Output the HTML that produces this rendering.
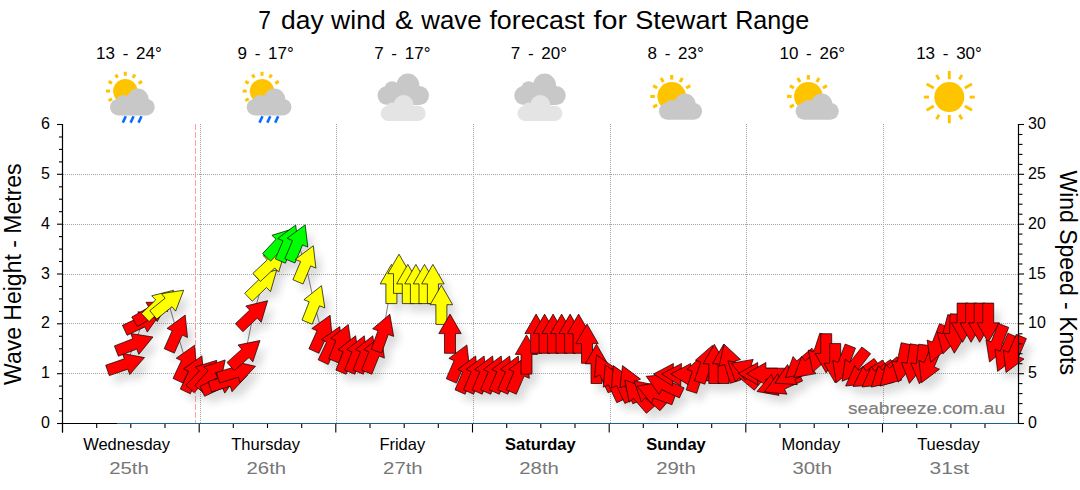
<!DOCTYPE html><html><head><meta charset="utf-8"><title>7 day wind &amp; wave forecast</title>
<style>html,body{margin:0;padding:0;background:#fff;}body{width:1080px;height:490px;overflow:hidden;font-family:"Liberation Sans",sans-serif;}svg{display:block}text{font-family:"Liberation Sans",sans-serif;}</style></head><body>
<svg width="1080" height="490" viewBox="0 0 1080 490">
<defs><filter id="sh" x="-20%" y="-20%" width="150%" height="150%"><feGaussianBlur stdDeviation="4.5"/></filter></defs>
<rect width="1080" height="490" fill="#fff"/>
<text x="258.3" y="29.2" font-size="26" fill="#000" textLength="12.7" lengthAdjust="spacingAndGlyphs">7</text>
<text x="281.1" y="29.2" font-size="26" fill="#000" textLength="42.6" lengthAdjust="spacingAndGlyphs">day</text>
<text x="331.1" y="29.2" font-size="26" fill="#000" textLength="54.6" lengthAdjust="spacingAndGlyphs">wind</text>
<text x="395.0" y="29.2" font-size="26" fill="#000" textLength="18.2" lengthAdjust="spacingAndGlyphs">&amp;</text>
<text x="421.3" y="29.2" font-size="26" fill="#000" textLength="60.2" lengthAdjust="spacingAndGlyphs">wave</text>
<text x="489.4" y="29.2" font-size="26" fill="#000" textLength="95.4" lengthAdjust="spacingAndGlyphs">forecast</text>
<text x="593.6" y="29.2" font-size="26" fill="#000" textLength="33.5" lengthAdjust="spacingAndGlyphs">for</text>
<text x="635.2" y="29.2" font-size="26" fill="#000" textLength="91.9" lengthAdjust="spacingAndGlyphs">Stewart</text>
<text x="735.2" y="29.2" font-size="26" fill="#000" textLength="74.1" lengthAdjust="spacingAndGlyphs">Range</text>
<line x1="63.0" x2="1018.5" y1="373.5" y2="373.5" stroke="#a4a4a4" stroke-width="1" stroke-dasharray="1,1"/>
<line x1="63.0" x2="1018.5" y1="323.5" y2="323.5" stroke="#a4a4a4" stroke-width="1" stroke-dasharray="1,1"/>
<line x1="63.0" x2="1018.5" y1="274.5" y2="274.5" stroke="#a4a4a4" stroke-width="1" stroke-dasharray="1,1"/>
<line x1="63.0" x2="1018.5" y1="224.5" y2="224.5" stroke="#a4a4a4" stroke-width="1" stroke-dasharray="1,1"/>
<line x1="63.0" x2="1018.5" y1="174.5" y2="174.5" stroke="#a4a4a4" stroke-width="1" stroke-dasharray="1,1"/>
<line x1="200.5" x2="200.5" y1="124.0" y2="423.5" stroke="#a4a4a4" stroke-width="1" stroke-dasharray="1,1"/>
<line x1="336.5" x2="336.5" y1="124.0" y2="423.5" stroke="#a4a4a4" stroke-width="1" stroke-dasharray="1,1"/>
<line x1="473.5" x2="473.5" y1="124.0" y2="423.5" stroke="#a4a4a4" stroke-width="1" stroke-dasharray="1,1"/>
<line x1="610.5" x2="610.5" y1="124.0" y2="423.5" stroke="#a4a4a4" stroke-width="1" stroke-dasharray="1,1"/>
<line x1="746.5" x2="746.5" y1="124.0" y2="423.5" stroke="#a4a4a4" stroke-width="1" stroke-dasharray="1,1"/>
<line x1="883.5" x2="883.5" y1="124.0" y2="423.5" stroke="#a4a4a4" stroke-width="1" stroke-dasharray="1,1"/>
<line x1="195.5" x2="195.5" y1="124.0" y2="423.5" stroke="#ffa0ac" stroke-width="1" stroke-dasharray="6,2"/>
<polyline fill="none" stroke="#808080" stroke-width="1" points="126.0,364.0 134.7,344.0 142.5,322.0 151.5,312.0 159.4,303.9 168.5,302.5 177.2,333.0 186.3,363.0 193.6,373.7 203.4,374.6 212.1,374.5 220.0,383.0 228.6,381.0 236.8,372.0 245.3,353.5 253.4,314.2 262.6,283.6 271.0,264.0 280.0,243.0 288.0,243.0 297.5,242.8 305.6,263.8 314.3,303.9 322.0,333.2 331.5,344.4 341.0,342.7 348.3,354.0 357.0,354.0 365.5,354.0 374.0,354.0 383.1,332.7 391.4,284.0 399.0,273.8 407.8,284.0 415.9,284.0 424.5,284.0 432.9,284.0 441.4,304.8 450.0,333.7 459.1,362.9 467.8,374.0 476.3,374.0 484.9,374.0 493.4,374.0 502.0,374.0 510.5,374.0 519.0,374.0 526.5,354.5 536.1,333.7 544.6,333.7 553.1,333.7 561.6,333.7 570.1,333.7 578.6,333.7 587.0,343.7 596.5,363.9 604.8,372.7 613.5,382.6 621.6,383.4 630.2,383.6 637.7,394.9 648.8,393.7 655.4,392.9 664.0,384.6 673.1,374.7 681.2,374.7 690.4,374.7 697.5,373.0 706.0,363.9 714.3,363.9 723.6,363.9 729.8,362.9 742.8,373.4 749.5,370.0 757.8,373.7 766.0,373.7 775.4,384.8 782.4,383.9 792.5,374.5 800.4,365.0 808.9,365.0 819.0,353.5 826.2,353.3 835.2,363.2 843.3,364.4 854.2,365.8 861.5,374.5 869.3,375.5 877.9,375.5 885.9,374.0 893.8,372.0 902.5,363.0 912.5,364.0 921.8,364.3 929.2,364.7 937.6,344.0 948.0,335.0 955.0,333.6 962.6,322.7 971.1,322.7 979.7,322.7 988.2,322.7 996.5,343.7 1005.3,353.4 1013.7,354.5"/>
<g filter="url(#sh)" fill="#000" opacity="0.14">
<polygon points="150.5,365.6 135.7,382.6 133.9,377.2 115.3,383.6 111.7,373.2 130.3,366.8 128.4,361.4"/>
<polygon points="159.0,345.0 144.8,362.4 142.8,357.1 124.4,364.2 120.4,353.9 138.8,346.8 136.8,341.5"/>
<polygon points="166.3,321.7 153.3,340.1 150.9,334.9 133.1,343.3 128.4,333.3 146.3,325.0 143.9,319.8"/>
<polygon points="174.5,310.2 163.2,329.6 160.3,324.7 143.3,334.6 137.8,325.0 154.8,315.2 152.0,310.3"/>
<polygon points="179.5,298.3 173.3,319.9 169.3,315.8 155.1,329.5 147.5,321.6 161.7,307.9 157.7,303.8"/>
<polygon points="189.7,298.2 181.6,319.1 178.0,314.7 162.7,327.1 155.8,318.6 171.1,306.2 167.5,301.7"/>
<polygon points="191.2,323.1 193.5,345.5 188.3,343.1 180.3,361.1 170.2,356.7 178.2,338.7 173.0,336.4"/>
<polygon points="200.6,353.2 202.5,375.6 197.3,373.2 189.0,391.1 179.0,386.4 187.4,368.6 182.2,366.2"/>
<polygon points="207.9,363.9 209.8,386.3 204.6,383.9 196.3,401.8 186.3,397.1 194.7,379.3 189.5,376.9"/>
<polygon points="222.8,368.3 217.7,390.2 213.5,386.3 200.1,400.7 192.0,393.2 205.4,378.8 201.3,374.9"/>
<polygon points="231.2,367.9 226.5,389.9 222.3,386.1 209.1,400.7 200.9,393.4 214.1,378.7 209.8,374.9"/>
<polygon points="243.8,382.7 230.8,401.1 228.4,395.9 210.6,404.3 205.9,394.3 223.8,386.0 221.4,380.8"/>
<polygon points="253.3,383.3 238.0,399.7 236.3,394.2 217.5,400.0 214.2,389.5 233.1,383.7 231.4,378.3"/>
<polygon points="261.5,374.3 246.2,390.7 244.5,385.2 225.7,391.0 222.4,380.5 241.3,374.7 239.6,369.3"/>
<polygon points="266.0,348.5 258.8,369.8 255.0,365.6 240.3,378.6 233.0,370.4 247.7,357.3 244.0,353.0"/>
<polygon points="273.6,308.7 267.2,330.3 263.3,326.1 248.9,339.7 241.4,331.7 255.7,318.1 251.8,314.0"/>
<polygon points="282.7,278.0 276.5,299.6 272.5,295.5 258.3,309.2 250.7,301.3 264.9,287.6 260.9,283.5"/>
<polygon points="291.3,258.6 284.7,280.1 280.8,276.0 266.4,289.4 258.9,281.3 273.3,267.9 269.4,263.7"/>
<polygon points="299.4,236.7 294.3,258.6 290.1,254.7 276.7,269.1 268.6,261.6 282.0,247.2 277.9,243.3"/>
<polygon points="301.7,233.0 304.3,255.3 299.1,253.1 291.4,271.2 281.3,266.9 289.0,248.8 283.7,246.5"/>
<polygon points="311.2,232.8 313.8,255.1 308.6,252.9 300.9,271.0 290.8,266.7 298.5,248.6 293.2,246.3"/>
<polygon points="319.3,253.8 321.9,276.1 316.7,273.9 309.0,292.0 298.9,287.7 306.6,269.6 301.3,267.3"/>
<polygon points="327.5,293.7 330.8,315.9 325.5,313.8 318.2,332.2 308.0,328.1 315.2,309.8 309.9,307.7"/>
<polygon points="336.1,323.3 338.2,345.7 333.1,343.4 324.9,361.3 314.9,356.8 323.0,338.8 317.8,336.5"/>
<polygon points="345.8,334.6 347.7,357.0 342.5,354.6 334.2,372.5 324.2,367.8 332.6,350.0 327.4,347.6"/>
<polygon points="354.3,332.5 357.4,354.8 352.1,352.7 344.8,370.9 334.6,366.8 341.9,348.5 336.7,346.4"/>
<polygon points="361.6,343.8 364.7,366.1 359.4,364.0 352.1,382.2 341.9,378.1 349.2,359.8 344.0,357.7"/>
<polygon points="370.3,343.8 373.4,366.1 368.1,364.0 360.8,382.2 350.6,378.1 357.9,359.8 352.7,357.7"/>
<polygon points="378.8,343.8 381.9,366.1 376.6,364.0 369.3,382.2 359.1,378.1 366.4,359.8 361.2,357.7"/>
<polygon points="387.3,343.8 390.4,366.1 385.1,364.0 377.8,382.2 367.6,378.1 374.9,359.8 369.7,357.7"/>
<polygon points="395.8,322.3 399.7,344.4 394.3,342.5 387.6,361.0 377.2,357.2 384.0,338.7 378.6,336.8"/>
<polygon points="397.4,272.4 408.6,291.9 402.9,291.9 402.9,311.6 391.9,311.6 391.9,291.9 386.2,291.9"/>
<polygon points="405.0,262.2 416.2,281.7 410.5,281.7 410.5,301.4 399.5,301.4 399.5,281.7 393.8,281.7"/>
<polygon points="413.8,272.4 425.0,291.9 419.3,291.9 419.3,311.6 408.3,311.6 408.3,291.9 402.6,291.9"/>
<polygon points="421.9,272.4 433.1,291.9 427.4,291.9 427.4,311.6 416.4,311.6 416.4,291.9 410.7,291.9"/>
<polygon points="430.5,272.4 441.7,291.9 436.0,291.9 436.0,311.6 425.0,311.6 425.0,291.9 419.3,291.9"/>
<polygon points="438.9,272.4 450.1,291.9 444.4,291.9 444.4,311.6 433.4,311.6 433.4,291.9 427.7,291.9"/>
<polygon points="447.4,293.2 458.6,312.7 452.9,312.7 452.9,332.4 441.9,332.4 441.9,312.7 436.2,312.7"/>
<polygon points="456.0,322.1 467.2,341.6 461.5,341.6 461.5,361.3 450.5,361.3 450.5,341.6 444.8,341.6"/>
<polygon points="472.9,352.9 475.4,375.3 470.2,373.0 462.4,391.1 452.3,386.7 460.1,368.6 454.9,366.4"/>
<polygon points="481.6,364.0 484.1,386.3 478.9,384.1 471.1,402.2 461.0,397.8 468.8,379.7 463.6,377.5"/>
<polygon points="490.1,364.0 492.7,386.3 487.4,384.1 479.6,402.2 469.5,397.8 477.3,379.7 472.1,377.5"/>
<polygon points="498.6,364.0 501.2,386.3 496.0,384.1 488.2,402.2 478.1,397.8 485.9,379.7 480.6,377.5"/>
<polygon points="507.2,364.0 509.7,386.3 504.5,384.1 496.7,402.2 486.6,397.8 494.4,379.7 489.2,377.5"/>
<polygon points="515.7,364.0 518.3,386.3 513.1,384.1 505.3,402.2 495.2,397.8 502.9,379.7 497.7,377.5"/>
<polygon points="524.3,364.0 526.8,386.3 521.6,384.1 513.8,402.2 503.7,397.8 511.5,379.7 506.3,377.5"/>
<polygon points="532.8,364.0 535.4,386.3 530.1,384.1 522.3,402.2 512.2,397.8 520.0,379.7 514.8,377.5"/>
<polygon points="532.5,342.9 543.7,362.4 538.0,362.4 538.0,382.1 527.0,382.1 527.0,362.4 521.3,362.4"/>
<polygon points="542.1,322.1 553.3,341.6 547.6,341.6 547.6,361.3 536.6,361.3 536.6,341.6 530.9,341.6"/>
<polygon points="550.6,322.1 561.8,341.6 556.1,341.6 556.1,361.3 545.1,361.3 545.1,341.6 539.4,341.6"/>
<polygon points="559.1,322.1 570.3,341.6 564.6,341.6 564.6,361.3 553.6,361.3 553.6,341.6 547.9,341.6"/>
<polygon points="567.6,322.1 578.8,341.6 573.1,341.6 573.1,361.3 562.1,361.3 562.1,341.6 556.4,341.6"/>
<polygon points="576.1,322.1 587.3,341.6 581.6,341.6 581.6,361.3 570.6,361.3 570.6,341.6 564.9,341.6"/>
<polygon points="584.6,322.1 595.8,341.6 590.1,341.6 590.1,361.3 579.1,361.3 579.1,341.6 573.4,341.6"/>
<polygon points="593.0,332.1 604.2,351.6 598.5,351.6 598.5,371.3 587.5,371.3 587.5,351.6 581.8,351.6"/>
<polygon points="602.5,352.3 613.7,371.8 608.0,371.8 608.0,391.5 597.0,391.5 597.0,371.8 591.3,371.8"/>
<polygon points="602.5,362.9 620.9,375.9 615.7,378.3 624.1,396.1 614.1,400.8 605.8,382.9 600.6,385.3"/>
<polygon points="611.2,372.8 629.6,385.8 624.4,388.2 632.8,406.0 622.8,410.7 614.5,392.8 609.3,395.2"/>
<polygon points="619.3,373.6 637.7,386.6 632.5,389.0 640.9,406.8 630.9,411.5 622.6,393.6 617.4,396.0"/>
<polygon points="628.5,373.6 646.5,387.1 641.2,389.4 648.9,407.5 638.8,411.8 631.1,393.7 625.9,395.9"/>
<polygon points="630.8,388.1 652.1,395.5 647.8,399.2 660.7,414.1 652.4,421.3 639.5,406.4 635.2,410.2"/>
<polygon points="640.0,388.8 662.1,393.2 658.3,397.5 673.2,410.4 666.0,418.7 651.1,405.8 647.4,410.1"/>
<polygon points="643.0,394.2 665.1,390.3 663.2,395.7 681.7,402.4 677.9,412.8 659.4,406.0 657.5,411.4"/>
<polygon points="652.2,384.3 674.6,382.4 672.2,387.6 690.1,395.9 685.4,405.9 667.6,397.5 665.2,402.7"/>
<polygon points="659.5,382.0 679.4,371.5 679.2,377.2 698.9,377.9 698.5,388.9 678.8,388.2 678.6,393.9"/>
<polygon points="667.6,382.0 687.5,371.5 687.3,377.2 707.0,377.9 706.6,388.9 686.9,388.2 686.7,393.9"/>
<polygon points="676.8,382.0 696.7,371.5 696.5,377.2 716.2,377.9 715.8,388.9 696.1,388.2 695.9,393.9"/>
<polygon points="709.6,362.4 714.2,384.4 708.8,382.6 702.7,401.3 692.2,397.9 698.3,379.2 692.9,377.4"/>
<polygon points="718.4,353.4 722.6,375.5 717.2,373.6 710.8,392.2 700.4,388.6 706.8,370.0 701.4,368.2"/>
<polygon points="720.3,352.3 731.5,371.8 725.8,371.8 725.8,391.5 714.8,391.5 714.8,371.8 709.1,371.8"/>
<polygon points="729.6,352.3 740.8,371.8 735.1,371.8 735.1,391.5 724.1,391.5 724.1,371.8 718.4,371.8"/>
<polygon points="730.1,352.2 746.5,367.5 741.0,369.2 746.8,388.0 736.3,391.3 730.5,372.4 725.1,374.1"/>
<polygon points="733.8,368.8 755.9,372.8 752.3,377.1 767.3,389.8 760.3,398.2 745.2,385.5 741.5,389.9"/>
<polygon points="737.1,371.3 759.2,367.4 757.3,372.8 775.8,379.5 772.0,389.9 753.5,383.1 751.6,388.5"/>
<polygon points="744.2,381.7 763.7,370.5 763.7,376.2 783.4,376.2 783.4,387.2 763.7,387.2 763.7,392.9"/>
<polygon points="752.4,381.7 771.9,370.5 771.9,376.2 791.6,376.2 791.6,387.2 771.9,387.2 771.9,392.9"/>
<polygon points="763.0,399.5 777.5,382.3 779.4,387.7 797.9,380.9 801.7,391.3 783.2,398.0 785.1,403.4"/>
<polygon points="770.5,399.9 783.8,381.7 786.1,386.9 804.1,378.9 808.5,389.0 790.5,397.0 792.9,402.2"/>
<polygon points="780.9,391.1 793.5,372.5 796.0,377.6 813.7,369.0 818.5,378.9 800.8,387.5 803.3,392.6"/>
<polygon points="791.4,385.6 799.1,364.5 802.8,368.9 817.9,356.2 824.9,364.6 809.9,377.3 813.5,381.6"/>
<polygon points="799.9,385.6 807.6,364.5 811.3,368.9 826.4,356.2 833.4,364.6 818.4,377.3 822.0,381.6"/>
<polygon points="818.9,380.1 814.3,358.1 819.7,359.9 825.8,341.2 836.3,344.6 830.2,363.3 835.6,365.1"/>
<polygon points="832.2,380.9 821.0,361.4 826.7,361.4 826.7,341.7 837.7,341.7 837.7,361.4 843.4,361.4"/>
<polygon points="841.2,390.8 830.0,371.3 835.7,371.3 835.7,351.6 846.7,351.6 846.7,371.3 852.4,371.3"/>
<polygon points="842.3,390.7 838.8,368.5 844.1,370.5 851.2,352.1 861.5,356.1 854.4,374.5 859.7,376.5"/>
<polygon points="848.1,389.2 851.3,367.0 855.8,370.5 867.9,355.0 876.6,361.7 864.5,377.3 869.0,380.8"/>
<polygon points="851.6,394.0 860.8,373.5 864.2,378.1 880.1,366.5 886.6,375.4 870.7,387.0 874.0,391.6"/>
<polygon points="859.1,394.5 869.0,374.3 872.1,379.0 888.5,368.0 894.6,377.1 878.3,388.1 881.5,392.8"/>
<polygon points="868.0,395.0 877.2,374.5 880.6,379.1 896.5,367.5 903.0,376.4 887.1,388.0 890.4,392.6"/>
<polygon points="877.3,395.1 884.3,373.7 888.1,378.0 902.8,364.8 910.1,373.0 895.5,386.2 899.3,390.4"/>
<polygon points="886.2,394.1 891.7,372.3 895.8,376.3 909.5,362.1 917.4,369.7 903.7,383.9 907.8,387.9"/>
<polygon points="904.4,390.2 897.5,368.8 903.1,370.0 907.2,350.7 918.0,353.0 913.9,372.2 919.4,373.4"/>
<polygon points="915.4,391.4 907.4,370.3 913.1,371.2 916.1,351.8 927.0,353.5 923.9,373.0 929.5,373.9"/>
<polygon points="925.4,391.8 916.7,371.0 922.3,371.7 924.7,352.2 935.6,353.5 933.2,373.1 938.9,373.8"/>
<polygon points="927.5,390.7 924.9,368.4 930.1,370.6 937.8,352.5 947.9,356.8 940.2,374.9 945.5,377.2"/>
<polygon points="936.6,370.3 933.1,348.1 938.4,350.1 945.5,331.7 955.8,335.7 948.7,354.1 954.0,356.1"/>
<polygon points="948.9,361.9 943.2,340.2 948.7,341.7 953.8,322.6 964.4,325.5 959.3,344.5 964.8,346.0"/>
<polygon points="960.3,361.2 949.8,341.3 955.5,341.5 956.2,321.8 967.2,322.2 966.5,341.9 972.2,342.1"/>
<polygon points="968.6,350.3 957.4,330.8 963.1,330.8 963.1,311.1 974.1,311.1 974.1,330.8 979.8,330.8"/>
<polygon points="977.1,350.3 965.9,330.8 971.6,330.8 971.6,311.1 982.6,311.1 982.6,330.8 988.3,330.8"/>
<polygon points="985.7,350.3 974.5,330.8 980.2,330.8 980.2,311.1 991.2,311.1 991.2,330.8 996.9,330.8"/>
<polygon points="994.2,350.3 983.0,330.8 988.7,330.8 988.7,311.1 999.7,311.1 999.7,330.8 1005.4,330.8"/>
<polygon points="995.5,370.0 992.0,347.8 997.3,349.8 1004.4,331.4 1014.7,335.4 1007.6,353.8 1012.9,355.8"/>
<polygon points="1003.6,379.4 1001.0,357.1 1006.2,359.3 1013.9,341.2 1024.0,345.5 1016.3,363.6 1021.6,365.9"/>
<polygon points="1012.0,380.5 1009.4,358.2 1014.6,360.4 1022.3,342.3 1032.4,346.6 1024.7,364.7 1030.0,367.0"/>
</g>
<g stroke="#000" stroke-width="0.7" stroke-linejoin="miter">
<polygon points="144.5,357.6 129.7,374.6 127.9,369.2 109.3,375.6 105.7,365.2 124.3,358.8 122.4,353.4" fill="#ff0000"/>
<polygon points="153.0,337.0 138.8,354.4 136.8,349.1 118.4,356.2 114.4,345.9 132.8,338.8 130.8,333.5" fill="#ff0000"/>
<polygon points="160.3,313.7 147.3,332.1 144.9,326.9 127.1,335.3 122.4,325.3 140.3,317.0 137.9,311.8" fill="#ff0000"/>
<polygon points="168.5,302.2 157.2,321.6 154.3,316.7 137.3,326.6 131.8,317.0 148.8,307.2 146.0,302.3" fill="#ff0000"/>
<polygon points="173.5,290.3 167.3,311.9 163.3,307.8 149.1,321.5 141.5,313.6 155.7,299.9 151.7,295.8" fill="#ffff00"/>
<polygon points="183.7,290.2 175.6,311.1 172.0,306.7 156.7,319.1 149.8,310.6 165.1,298.2 161.5,293.7" fill="#ffff00"/>
<polygon points="185.2,315.1 187.5,337.5 182.3,335.1 174.3,353.1 164.2,348.7 172.2,330.7 167.0,328.4" fill="#ff0000"/>
<polygon points="194.6,345.2 196.5,367.6 191.3,365.2 183.0,383.1 173.0,378.4 181.4,360.6 176.2,358.2" fill="#ff0000"/>
<polygon points="201.9,355.9 203.8,378.3 198.6,375.9 190.3,393.8 180.3,389.1 188.7,371.3 183.5,368.9" fill="#ff0000"/>
<polygon points="216.8,360.3 211.7,382.2 207.5,378.3 194.1,392.7 186.0,385.2 199.4,370.8 195.3,366.9" fill="#ff0000"/>
<polygon points="225.2,359.9 220.5,381.9 216.3,378.1 203.1,392.7 194.9,385.4 208.1,370.7 203.8,366.9" fill="#ff0000"/>
<polygon points="237.8,374.7 224.8,393.1 222.4,387.9 204.6,396.3 199.9,386.3 217.8,378.0 215.4,372.8" fill="#ff0000"/>
<polygon points="247.3,375.3 232.0,391.7 230.3,386.2 211.5,392.0 208.2,381.5 227.1,375.7 225.4,370.3" fill="#ff0000"/>
<polygon points="255.5,366.3 240.2,382.7 238.5,377.2 219.7,383.0 216.4,372.5 235.3,366.7 233.6,361.3" fill="#ff0000"/>
<polygon points="260.0,340.5 252.8,361.8 249.0,357.6 234.3,370.6 227.0,362.4 241.7,349.3 238.0,345.0" fill="#ff0000"/>
<polygon points="267.6,300.7 261.2,322.3 257.3,318.1 242.9,331.7 235.4,323.7 249.7,310.1 245.8,306.0" fill="#ff0000"/>
<polygon points="276.7,270.0 270.5,291.6 266.5,287.5 252.3,301.2 244.7,293.3 258.9,279.6 254.9,275.5" fill="#ffff00"/>
<polygon points="285.3,250.6 278.7,272.1 274.8,268.0 260.4,281.4 252.9,273.3 267.3,259.9 263.4,255.7" fill="#ffff00"/>
<polygon points="293.4,228.7 288.3,250.6 284.1,246.7 270.7,261.1 262.6,253.6 276.0,239.2 271.9,235.3" fill="#00ff00"/>
<polygon points="295.7,225.0 298.3,247.3 293.1,245.1 285.4,263.2 275.3,258.9 283.0,240.8 277.7,238.5" fill="#00ff00"/>
<polygon points="305.2,224.8 307.8,247.1 302.6,244.9 294.9,263.0 284.8,258.7 292.5,240.6 287.2,238.3" fill="#00ff00"/>
<polygon points="313.3,245.8 315.9,268.1 310.7,265.9 303.0,284.0 292.9,279.7 300.6,261.6 295.3,259.3" fill="#ffff00"/>
<polygon points="321.5,285.7 324.8,307.9 319.5,305.8 312.2,324.2 302.0,320.1 309.2,301.8 303.9,299.7" fill="#ffff00"/>
<polygon points="330.1,315.3 332.2,337.7 327.1,335.4 318.9,353.3 308.9,348.8 317.0,330.8 311.8,328.5" fill="#ff0000"/>
<polygon points="339.8,326.6 341.7,349.0 336.5,346.6 328.2,364.5 318.2,359.8 326.6,342.0 321.4,339.6" fill="#ff0000"/>
<polygon points="348.3,324.5 351.4,346.8 346.1,344.7 338.8,362.9 328.6,358.8 335.9,340.5 330.7,338.4" fill="#ff0000"/>
<polygon points="355.6,335.8 358.7,358.1 353.4,356.0 346.1,374.2 335.9,370.1 343.2,351.8 338.0,349.7" fill="#ff0000"/>
<polygon points="364.3,335.8 367.4,358.1 362.1,356.0 354.8,374.2 344.6,370.1 351.9,351.8 346.7,349.7" fill="#ff0000"/>
<polygon points="372.8,335.8 375.9,358.1 370.6,356.0 363.3,374.2 353.1,370.1 360.4,351.8 355.2,349.7" fill="#ff0000"/>
<polygon points="381.3,335.8 384.4,358.1 379.1,356.0 371.8,374.2 361.6,370.1 368.9,351.8 363.7,349.7" fill="#ff0000"/>
<polygon points="389.8,314.3 393.7,336.4 388.3,334.5 381.6,353.0 371.2,349.2 378.0,330.7 372.6,328.8" fill="#ff0000"/>
<polygon points="391.4,264.4 402.6,283.9 396.9,283.9 396.9,303.6 385.9,303.6 385.9,283.9 380.2,283.9" fill="#ffff00"/>
<polygon points="399.0,254.2 410.2,273.7 404.5,273.7 404.5,293.4 393.5,293.4 393.5,273.7 387.8,273.7" fill="#ffff00"/>
<polygon points="407.8,264.4 419.0,283.9 413.3,283.9 413.3,303.6 402.3,303.6 402.3,283.9 396.6,283.9" fill="#ffff00"/>
<polygon points="415.9,264.4 427.1,283.9 421.4,283.9 421.4,303.6 410.4,303.6 410.4,283.9 404.7,283.9" fill="#ffff00"/>
<polygon points="424.5,264.4 435.7,283.9 430.0,283.9 430.0,303.6 419.0,303.6 419.0,283.9 413.3,283.9" fill="#ffff00"/>
<polygon points="432.9,264.4 444.1,283.9 438.4,283.9 438.4,303.6 427.4,303.6 427.4,283.9 421.7,283.9" fill="#ffff00"/>
<polygon points="441.4,285.2 452.6,304.7 446.9,304.7 446.9,324.4 435.9,324.4 435.9,304.7 430.2,304.7" fill="#ffff00"/>
<polygon points="450.0,314.1 461.2,333.6 455.5,333.6 455.5,353.3 444.5,353.3 444.5,333.6 438.8,333.6" fill="#ff0000"/>
<polygon points="466.9,344.9 469.4,367.3 464.2,365.0 456.4,383.1 446.3,378.7 454.1,360.6 448.9,358.4" fill="#ff0000"/>
<polygon points="475.6,356.0 478.1,378.3 472.9,376.1 465.1,394.2 455.0,389.8 462.8,371.7 457.6,369.5" fill="#ff0000"/>
<polygon points="484.1,356.0 486.7,378.3 481.4,376.1 473.6,394.2 463.5,389.8 471.3,371.7 466.1,369.5" fill="#ff0000"/>
<polygon points="492.6,356.0 495.2,378.3 490.0,376.1 482.2,394.2 472.1,389.8 479.9,371.7 474.6,369.5" fill="#ff0000"/>
<polygon points="501.2,356.0 503.7,378.3 498.5,376.1 490.7,394.2 480.6,389.8 488.4,371.7 483.2,369.5" fill="#ff0000"/>
<polygon points="509.7,356.0 512.3,378.3 507.1,376.1 499.3,394.2 489.2,389.8 496.9,371.7 491.7,369.5" fill="#ff0000"/>
<polygon points="518.3,356.0 520.8,378.3 515.6,376.1 507.8,394.2 497.7,389.8 505.5,371.7 500.3,369.5" fill="#ff0000"/>
<polygon points="526.8,356.0 529.4,378.3 524.1,376.1 516.3,394.2 506.2,389.8 514.0,371.7 508.8,369.5" fill="#ff0000"/>
<polygon points="526.5,334.9 537.7,354.4 532.0,354.4 532.0,374.1 521.0,374.1 521.0,354.4 515.3,354.4" fill="#ff0000"/>
<polygon points="536.1,314.1 547.3,333.6 541.6,333.6 541.6,353.3 530.6,353.3 530.6,333.6 524.9,333.6" fill="#ff0000"/>
<polygon points="544.6,314.1 555.8,333.6 550.1,333.6 550.1,353.3 539.1,353.3 539.1,333.6 533.4,333.6" fill="#ff0000"/>
<polygon points="553.1,314.1 564.3,333.6 558.6,333.6 558.6,353.3 547.6,353.3 547.6,333.6 541.9,333.6" fill="#ff0000"/>
<polygon points="561.6,314.1 572.8,333.6 567.1,333.6 567.1,353.3 556.1,353.3 556.1,333.6 550.4,333.6" fill="#ff0000"/>
<polygon points="570.1,314.1 581.3,333.6 575.6,333.6 575.6,353.3 564.6,353.3 564.6,333.6 558.9,333.6" fill="#ff0000"/>
<polygon points="578.6,314.1 589.8,333.6 584.1,333.6 584.1,353.3 573.1,353.3 573.1,333.6 567.4,333.6" fill="#ff0000"/>
<polygon points="587.0,324.1 598.2,343.6 592.5,343.6 592.5,363.3 581.5,363.3 581.5,343.6 575.8,343.6" fill="#ff0000"/>
<polygon points="596.5,344.3 607.7,363.8 602.0,363.8 602.0,383.5 591.0,383.5 591.0,363.8 585.3,363.8" fill="#ff0000"/>
<polygon points="596.5,354.9 614.9,367.9 609.7,370.3 618.1,388.1 608.1,392.8 599.8,374.9 594.6,377.3" fill="#ff0000"/>
<polygon points="605.2,364.8 623.6,377.8 618.4,380.2 626.8,398.0 616.8,402.7 608.5,384.8 603.3,387.2" fill="#ff0000"/>
<polygon points="613.3,365.6 631.7,378.6 626.5,381.0 634.9,398.8 624.9,403.5 616.6,385.6 611.4,388.0" fill="#ff0000"/>
<polygon points="622.5,365.6 640.5,379.1 635.2,381.4 642.9,399.5 632.8,403.8 625.1,385.7 619.9,387.9" fill="#ff0000"/>
<polygon points="624.8,380.1 646.1,387.5 641.8,391.2 654.7,406.1 646.4,413.3 633.5,398.4 629.2,402.2" fill="#ff0000"/>
<polygon points="634.0,380.8 656.1,385.2 652.3,389.5 667.2,402.4 660.0,410.7 645.1,397.8 641.4,402.1" fill="#ff0000"/>
<polygon points="637.0,386.2 659.1,382.3 657.2,387.7 675.7,394.4 671.9,404.8 653.4,398.0 651.5,403.4" fill="#ff0000"/>
<polygon points="646.2,376.3 668.6,374.4 666.2,379.6 684.1,387.9 679.4,397.9 661.6,389.5 659.2,394.7" fill="#ff0000"/>
<polygon points="653.5,374.0 673.4,363.5 673.2,369.2 692.9,369.9 692.5,380.9 672.8,380.2 672.6,385.9" fill="#ff0000"/>
<polygon points="661.6,374.0 681.5,363.5 681.3,369.2 701.0,369.9 700.6,380.9 680.9,380.2 680.7,385.9" fill="#ff0000"/>
<polygon points="670.8,374.0 690.7,363.5 690.5,369.2 710.2,369.9 709.8,380.9 690.1,380.2 689.9,385.9" fill="#ff0000"/>
<polygon points="703.6,354.4 708.2,376.4 702.8,374.6 696.7,393.3 686.2,389.9 692.3,371.2 686.9,369.4" fill="#ff0000"/>
<polygon points="712.4,345.4 716.6,367.5 711.2,365.6 704.8,384.2 694.4,380.6 700.8,362.0 695.4,360.2" fill="#ff0000"/>
<polygon points="714.3,344.3 725.5,363.8 719.8,363.8 719.8,383.5 708.8,383.5 708.8,363.8 703.1,363.8" fill="#ff0000"/>
<polygon points="723.6,344.3 734.8,363.8 729.1,363.8 729.1,383.5 718.1,383.5 718.1,363.8 712.4,363.8" fill="#ff0000"/>
<polygon points="724.1,344.2 740.5,359.5 735.0,361.2 740.8,380.0 730.3,383.3 724.5,364.4 719.1,366.1" fill="#ff0000"/>
<polygon points="727.8,360.8 749.9,364.8 746.3,369.1 761.3,381.8 754.3,390.2 739.2,377.5 735.5,381.9" fill="#ff0000"/>
<polygon points="731.1,363.3 753.2,359.4 751.3,364.8 769.8,371.5 766.0,381.9 747.5,375.1 745.6,380.5" fill="#ff0000"/>
<polygon points="738.2,373.7 757.7,362.5 757.7,368.2 777.4,368.2 777.4,379.2 757.7,379.2 757.7,384.9" fill="#ff0000"/>
<polygon points="746.4,373.7 765.9,362.5 765.9,368.2 785.6,368.2 785.6,379.2 765.9,379.2 765.9,384.9" fill="#ff0000"/>
<polygon points="757.0,391.5 771.5,374.3 773.4,379.7 791.9,372.9 795.7,383.3 777.2,390.0 779.1,395.4" fill="#ff0000"/>
<polygon points="764.5,391.9 777.8,373.7 780.1,378.9 798.1,370.9 802.5,381.0 784.5,389.0 786.9,394.2" fill="#ff0000"/>
<polygon points="774.9,383.1 787.5,364.5 790.0,369.6 807.7,361.0 812.5,370.9 794.8,379.5 797.3,384.6" fill="#ff0000"/>
<polygon points="785.4,377.6 793.1,356.5 796.8,360.9 811.9,348.2 818.9,356.6 803.9,369.3 807.5,373.6" fill="#ff0000"/>
<polygon points="793.9,377.6 801.6,356.5 805.3,360.9 820.4,348.2 827.4,356.6 812.4,369.3 816.0,373.6" fill="#ff0000"/>
<polygon points="812.9,372.1 808.3,350.1 813.7,351.9 819.8,333.2 830.3,336.6 824.2,355.3 829.6,357.1" fill="#ff0000"/>
<polygon points="826.2,372.9 815.0,353.4 820.7,353.4 820.7,333.7 831.7,333.7 831.7,353.4 837.4,353.4" fill="#ff0000"/>
<polygon points="835.2,382.8 824.0,363.3 829.7,363.3 829.7,343.6 840.7,343.6 840.7,363.3 846.4,363.3" fill="#ff0000"/>
<polygon points="836.3,382.7 832.8,360.5 838.1,362.5 845.2,344.1 855.5,348.1 848.4,366.5 853.7,368.5" fill="#ff0000"/>
<polygon points="842.1,381.2 845.3,359.0 849.8,362.5 861.9,347.0 870.6,353.7 858.5,369.3 863.0,372.8" fill="#ff0000"/>
<polygon points="845.6,386.0 854.8,365.5 858.2,370.1 874.1,358.5 880.6,367.4 864.7,379.0 868.0,383.6" fill="#ff0000"/>
<polygon points="853.1,386.5 863.0,366.3 866.1,371.0 882.5,360.0 888.6,369.1 872.3,380.1 875.5,384.8" fill="#ff0000"/>
<polygon points="862.0,387.0 871.2,366.5 874.6,371.1 890.5,359.5 897.0,368.4 881.1,380.0 884.4,384.6" fill="#ff0000"/>
<polygon points="871.3,387.1 878.3,365.7 882.1,370.0 896.8,356.8 904.1,365.0 889.5,378.2 893.3,382.4" fill="#ff0000"/>
<polygon points="880.2,386.1 885.7,364.3 889.8,368.3 903.5,354.1 911.4,361.7 897.7,375.9 901.8,379.9" fill="#ff0000"/>
<polygon points="898.4,382.2 891.5,360.8 897.1,362.0 901.2,342.7 912.0,345.0 907.9,364.2 913.4,365.4" fill="#ff0000"/>
<polygon points="909.4,383.4 901.4,362.3 907.1,363.2 910.1,343.8 921.0,345.5 917.9,365.0 923.5,365.9" fill="#ff0000"/>
<polygon points="919.4,383.8 910.7,363.0 916.3,363.7 918.7,344.2 929.6,345.5 927.2,365.1 932.9,365.8" fill="#ff0000"/>
<polygon points="921.5,382.7 918.9,360.4 924.1,362.6 931.8,344.5 941.9,348.8 934.2,366.9 939.5,369.2" fill="#ff0000"/>
<polygon points="930.6,362.3 927.1,340.1 932.4,342.1 939.5,323.7 949.8,327.7 942.7,346.1 948.0,348.1" fill="#ff0000"/>
<polygon points="942.9,353.9 937.2,332.2 942.7,333.7 947.8,314.6 958.4,317.5 953.3,336.5 958.8,338.0" fill="#ff0000"/>
<polygon points="954.3,353.2 943.8,333.3 949.5,333.5 950.2,313.8 961.2,314.2 960.5,333.9 966.2,334.1" fill="#ff0000"/>
<polygon points="962.6,342.3 951.4,322.8 957.1,322.8 957.1,303.1 968.1,303.1 968.1,322.8 973.8,322.8" fill="#ff0000"/>
<polygon points="971.1,342.3 959.9,322.8 965.6,322.8 965.6,303.1 976.6,303.1 976.6,322.8 982.3,322.8" fill="#ff0000"/>
<polygon points="979.7,342.3 968.5,322.8 974.2,322.8 974.2,303.1 985.2,303.1 985.2,322.8 990.9,322.8" fill="#ff0000"/>
<polygon points="988.2,342.3 977.0,322.8 982.7,322.8 982.7,303.1 993.7,303.1 993.7,322.8 999.4,322.8" fill="#ff0000"/>
<polygon points="989.5,362.0 986.0,339.8 991.3,341.8 998.4,323.4 1008.7,327.4 1001.6,345.8 1006.9,347.8" fill="#ff0000"/>
<polygon points="997.6,371.4 995.0,349.1 1000.2,351.3 1007.9,333.2 1018.0,337.5 1010.3,355.6 1015.6,357.9" fill="#ff0000"/>
<polygon points="1006.0,372.5 1003.4,350.2 1008.6,352.4 1016.3,334.3 1026.4,338.6 1018.7,356.7 1024.0,359.0" fill="#ff0000"/>
</g>
<line x1="62.5" x2="62.5" y1="124.0" y2="432.5" stroke="#000" stroke-width="1.2"/>
<line x1="1018.5" x2="1018.5" y1="124.0" y2="424.0" stroke="#000" stroke-width="1.2"/>
<line x1="57.0" x2="117" y1="423.5" y2="423.5" stroke="#000" stroke-width="1.2"/>
<line x1="117" x2="1018.5" y1="423.5" y2="423.5" stroke="#1f5f90" stroke-width="1.1"/>
<line x1="57.0" x2="62.5" y1="423.5" y2="423.5" stroke="#000" stroke-width="1.1"/>
<line x1="59.0" x2="62.5" y1="411.0" y2="411.0" stroke="#000" stroke-width="1.1"/>
<line x1="59.0" x2="62.5" y1="398.6" y2="398.6" stroke="#000" stroke-width="1.1"/>
<line x1="59.0" x2="62.5" y1="386.1" y2="386.1" stroke="#000" stroke-width="1.1"/>
<line x1="57.0" x2="62.5" y1="373.7" y2="373.7" stroke="#000" stroke-width="1.1"/>
<line x1="59.0" x2="62.5" y1="361.2" y2="361.2" stroke="#000" stroke-width="1.1"/>
<line x1="59.0" x2="62.5" y1="348.8" y2="348.8" stroke="#000" stroke-width="1.1"/>
<line x1="59.0" x2="62.5" y1="336.3" y2="336.3" stroke="#000" stroke-width="1.1"/>
<line x1="57.0" x2="62.5" y1="323.8" y2="323.8" stroke="#000" stroke-width="1.1"/>
<line x1="59.0" x2="62.5" y1="311.4" y2="311.4" stroke="#000" stroke-width="1.1"/>
<line x1="59.0" x2="62.5" y1="298.9" y2="298.9" stroke="#000" stroke-width="1.1"/>
<line x1="59.0" x2="62.5" y1="286.5" y2="286.5" stroke="#000" stroke-width="1.1"/>
<line x1="57.0" x2="62.5" y1="274.0" y2="274.0" stroke="#000" stroke-width="1.1"/>
<line x1="59.0" x2="62.5" y1="261.5" y2="261.5" stroke="#000" stroke-width="1.1"/>
<line x1="59.0" x2="62.5" y1="249.1" y2="249.1" stroke="#000" stroke-width="1.1"/>
<line x1="59.0" x2="62.5" y1="236.6" y2="236.6" stroke="#000" stroke-width="1.1"/>
<line x1="57.0" x2="62.5" y1="224.2" y2="224.2" stroke="#000" stroke-width="1.1"/>
<line x1="59.0" x2="62.5" y1="211.7" y2="211.7" stroke="#000" stroke-width="1.1"/>
<line x1="59.0" x2="62.5" y1="199.2" y2="199.2" stroke="#000" stroke-width="1.1"/>
<line x1="59.0" x2="62.5" y1="186.8" y2="186.8" stroke="#000" stroke-width="1.1"/>
<line x1="57.0" x2="62.5" y1="174.3" y2="174.3" stroke="#000" stroke-width="1.1"/>
<line x1="59.0" x2="62.5" y1="161.9" y2="161.9" stroke="#000" stroke-width="1.1"/>
<line x1="59.0" x2="62.5" y1="149.4" y2="149.4" stroke="#000" stroke-width="1.1"/>
<line x1="59.0" x2="62.5" y1="137.0" y2="137.0" stroke="#000" stroke-width="1.1"/>
<line x1="57.0" x2="62.5" y1="124.5" y2="124.5" stroke="#000" stroke-width="1.1"/>
<line x1="1018.5" x2="1024.0" y1="423.5" y2="423.5" stroke="#000" stroke-width="1.1"/>
<line x1="1018.5" x2="1022.5" y1="413.5" y2="413.5" stroke="#000" stroke-width="1.1"/>
<line x1="1018.5" x2="1022.5" y1="403.6" y2="403.6" stroke="#000" stroke-width="1.1"/>
<line x1="1018.5" x2="1022.5" y1="393.6" y2="393.6" stroke="#000" stroke-width="1.1"/>
<line x1="1018.5" x2="1022.5" y1="383.6" y2="383.6" stroke="#000" stroke-width="1.1"/>
<line x1="1018.5" x2="1024.0" y1="373.7" y2="373.7" stroke="#000" stroke-width="1.1"/>
<line x1="1018.5" x2="1022.5" y1="363.7" y2="363.7" stroke="#000" stroke-width="1.1"/>
<line x1="1018.5" x2="1022.5" y1="353.7" y2="353.7" stroke="#000" stroke-width="1.1"/>
<line x1="1018.5" x2="1022.5" y1="343.8" y2="343.8" stroke="#000" stroke-width="1.1"/>
<line x1="1018.5" x2="1022.5" y1="333.8" y2="333.8" stroke="#000" stroke-width="1.1"/>
<line x1="1018.5" x2="1024.0" y1="323.8" y2="323.8" stroke="#000" stroke-width="1.1"/>
<line x1="1018.5" x2="1022.5" y1="313.9" y2="313.9" stroke="#000" stroke-width="1.1"/>
<line x1="1018.5" x2="1022.5" y1="303.9" y2="303.9" stroke="#000" stroke-width="1.1"/>
<line x1="1018.5" x2="1022.5" y1="293.9" y2="293.9" stroke="#000" stroke-width="1.1"/>
<line x1="1018.5" x2="1022.5" y1="284.0" y2="284.0" stroke="#000" stroke-width="1.1"/>
<line x1="1018.5" x2="1024.0" y1="274.0" y2="274.0" stroke="#000" stroke-width="1.1"/>
<line x1="1018.5" x2="1022.5" y1="264.0" y2="264.0" stroke="#000" stroke-width="1.1"/>
<line x1="1018.5" x2="1022.5" y1="254.1" y2="254.1" stroke="#000" stroke-width="1.1"/>
<line x1="1018.5" x2="1022.5" y1="244.1" y2="244.1" stroke="#000" stroke-width="1.1"/>
<line x1="1018.5" x2="1022.5" y1="234.1" y2="234.1" stroke="#000" stroke-width="1.1"/>
<line x1="1018.5" x2="1024.0" y1="224.2" y2="224.2" stroke="#000" stroke-width="1.1"/>
<line x1="1018.5" x2="1022.5" y1="214.2" y2="214.2" stroke="#000" stroke-width="1.1"/>
<line x1="1018.5" x2="1022.5" y1="204.2" y2="204.2" stroke="#000" stroke-width="1.1"/>
<line x1="1018.5" x2="1022.5" y1="194.3" y2="194.3" stroke="#000" stroke-width="1.1"/>
<line x1="1018.5" x2="1022.5" y1="184.3" y2="184.3" stroke="#000" stroke-width="1.1"/>
<line x1="1018.5" x2="1024.0" y1="174.3" y2="174.3" stroke="#000" stroke-width="1.1"/>
<line x1="1018.5" x2="1022.5" y1="164.4" y2="164.4" stroke="#000" stroke-width="1.1"/>
<line x1="1018.5" x2="1022.5" y1="154.4" y2="154.4" stroke="#000" stroke-width="1.1"/>
<line x1="1018.5" x2="1022.5" y1="144.4" y2="144.4" stroke="#000" stroke-width="1.1"/>
<line x1="1018.5" x2="1022.5" y1="134.5" y2="134.5" stroke="#000" stroke-width="1.1"/>
<line x1="1018.5" x2="1024.0" y1="124.5" y2="124.5" stroke="#000" stroke-width="1.1"/>
<line x1="62.5" x2="62.5" y1="424.0" y2="432.5" stroke="#000" stroke-width="1.1"/>
<line x1="96.7" x2="96.7" y1="424.0" y2="428.0" stroke="#000" stroke-width="1.1"/>
<line x1="130.8" x2="130.8" y1="424.0" y2="428.0" stroke="#000" stroke-width="1.1"/>
<line x1="165.0" x2="165.0" y1="424.0" y2="428.0" stroke="#000" stroke-width="1.1"/>
<line x1="199.2" x2="199.2" y1="424.0" y2="432.5" stroke="#000" stroke-width="1.1"/>
<line x1="233.3" x2="233.3" y1="424.0" y2="428.0" stroke="#000" stroke-width="1.1"/>
<line x1="267.5" x2="267.5" y1="424.0" y2="428.0" stroke="#000" stroke-width="1.1"/>
<line x1="301.7" x2="301.7" y1="424.0" y2="428.0" stroke="#000" stroke-width="1.1"/>
<line x1="335.8" x2="335.8" y1="424.0" y2="432.5" stroke="#000" stroke-width="1.1"/>
<line x1="370.0" x2="370.0" y1="424.0" y2="428.0" stroke="#000" stroke-width="1.1"/>
<line x1="404.2" x2="404.2" y1="424.0" y2="428.0" stroke="#000" stroke-width="1.1"/>
<line x1="438.3" x2="438.3" y1="424.0" y2="428.0" stroke="#000" stroke-width="1.1"/>
<line x1="472.5" x2="472.5" y1="424.0" y2="432.5" stroke="#000" stroke-width="1.1"/>
<line x1="506.7" x2="506.7" y1="424.0" y2="428.0" stroke="#000" stroke-width="1.1"/>
<line x1="540.8" x2="540.8" y1="424.0" y2="428.0" stroke="#000" stroke-width="1.1"/>
<line x1="575.0" x2="575.0" y1="424.0" y2="428.0" stroke="#000" stroke-width="1.1"/>
<line x1="609.2" x2="609.2" y1="424.0" y2="432.5" stroke="#000" stroke-width="1.1"/>
<line x1="643.3" x2="643.3" y1="424.0" y2="428.0" stroke="#000" stroke-width="1.1"/>
<line x1="677.5" x2="677.5" y1="424.0" y2="428.0" stroke="#000" stroke-width="1.1"/>
<line x1="711.7" x2="711.7" y1="424.0" y2="428.0" stroke="#000" stroke-width="1.1"/>
<line x1="745.8" x2="745.8" y1="424.0" y2="432.5" stroke="#000" stroke-width="1.1"/>
<line x1="780.0" x2="780.0" y1="424.0" y2="428.0" stroke="#000" stroke-width="1.1"/>
<line x1="814.2" x2="814.2" y1="424.0" y2="428.0" stroke="#000" stroke-width="1.1"/>
<line x1="848.4" x2="848.4" y1="424.0" y2="428.0" stroke="#000" stroke-width="1.1"/>
<line x1="882.5" x2="882.5" y1="424.0" y2="432.5" stroke="#000" stroke-width="1.1"/>
<line x1="916.7" x2="916.7" y1="424.0" y2="428.0" stroke="#000" stroke-width="1.1"/>
<line x1="950.9" x2="950.9" y1="424.0" y2="428.0" stroke="#000" stroke-width="1.1"/>
<line x1="985.0" x2="985.0" y1="424.0" y2="428.0" stroke="#000" stroke-width="1.1"/>
<text x="50" y="428.1" font-size="16" text-anchor="end" fill="#000">0</text>
<text x="1028" y="428.1" font-size="16" text-anchor="start" fill="#000">0</text>
<text x="50" y="378.3" font-size="16" text-anchor="end" fill="#000">1</text>
<text x="1028" y="378.3" font-size="16" text-anchor="start" fill="#000">5</text>
<text x="50" y="328.4" font-size="16" text-anchor="end" fill="#000">2</text>
<text x="1028" y="328.4" font-size="16" text-anchor="start" fill="#000">10</text>
<text x="50" y="278.6" font-size="16" text-anchor="end" fill="#000">3</text>
<text x="1028" y="278.6" font-size="16" text-anchor="start" fill="#000">15</text>
<text x="50" y="228.8" font-size="16" text-anchor="end" fill="#000">4</text>
<text x="1028" y="228.8" font-size="16" text-anchor="start" fill="#000">20</text>
<text x="50" y="178.9" font-size="16" text-anchor="end" fill="#000">5</text>
<text x="1028" y="178.9" font-size="16" text-anchor="start" fill="#000">25</text>
<text x="50" y="129.1" font-size="16" text-anchor="end" fill="#000">6</text>
<text x="1028" y="129.1" font-size="16" text-anchor="start" fill="#000">30</text>
<text transform="translate(21,274.2) rotate(-90)" font-size="23" text-anchor="middle" fill="#000">Wave Height - Metres</text>
<text transform="translate(1060,272.7) rotate(90)" font-size="23" text-anchor="middle" fill="#000">Wind Speed - Knots</text>
<text x="126.6" y="450" font-size="16.5" text-anchor="middle" fill="#000">Wednesday</text>
<text x="129.0" y="473.8" font-size="17.3" text-anchor="middle" fill="#777" textLength="39.6" lengthAdjust="spacingAndGlyphs">25th</text>
<text x="128.9" y="59" font-size="17" text-anchor="middle" fill="#000" style="word-spacing:3px">13 - 24°</text>
<text x="265.6" y="450" font-size="16.5" text-anchor="middle" fill="#000">Thursday</text>
<text x="266.3" y="473.8" font-size="17.3" text-anchor="middle" fill="#777" textLength="39.6" lengthAdjust="spacingAndGlyphs">26th</text>
<text x="265.6" y="59" font-size="17" text-anchor="middle" fill="#000" style="word-spacing:3px">9 - 17°</text>
<text x="402.3" y="450" font-size="16.5" text-anchor="middle" fill="#000">Friday</text>
<text x="402.9" y="473.8" font-size="17.3" text-anchor="middle" fill="#777" textLength="39.6" lengthAdjust="spacingAndGlyphs">27th</text>
<text x="402.3" y="59" font-size="17" text-anchor="middle" fill="#000" style="word-spacing:3px">7 - 17°</text>
<text x="540.3" y="450" font-size="16.5" text-anchor="middle" fill="#000" font-weight="bold">Saturday</text>
<text x="539.1" y="473.8" font-size="17.3" text-anchor="middle" fill="#777" textLength="39.6" lengthAdjust="spacingAndGlyphs">28th</text>
<text x="538.9" y="59" font-size="17" text-anchor="middle" fill="#000" style="word-spacing:3px">7 - 20°</text>
<text x="676.0" y="450" font-size="16.5" text-anchor="middle" fill="#000" font-weight="bold">Sunday</text>
<text x="676.0" y="473.8" font-size="17.3" text-anchor="middle" fill="#777" textLength="39.6" lengthAdjust="spacingAndGlyphs">29th</text>
<text x="675.6" y="59" font-size="17" text-anchor="middle" fill="#000" style="word-spacing:3px">8 - 23°</text>
<text x="810.8" y="450" font-size="16.5" text-anchor="middle" fill="#000">Monday</text>
<text x="812.2" y="473.8" font-size="17.3" text-anchor="middle" fill="#777" textLength="39.6" lengthAdjust="spacingAndGlyphs">30th</text>
<text x="812.3" y="59" font-size="17" text-anchor="middle" fill="#000" style="word-spacing:3px">10 - 26°</text>
<text x="948.5" y="450" font-size="16.5" text-anchor="middle" fill="#000">Tuesday</text>
<text x="949.4" y="473.8" font-size="17.3" text-anchor="middle" fill="#777" textLength="39.6" lengthAdjust="spacingAndGlyphs">31st</text>
<text x="949.0" y="59" font-size="17" text-anchor="middle" fill="#000" style="word-spacing:3px">13 - 30°</text>
<text x="926.5" y="413.7" font-size="17.4" text-anchor="middle" fill="#7c7c7c" stroke="#7c7c7c" stroke-width="0.15" textLength="157" lengthAdjust="spacingAndGlyphs">seabreeze.com.au</text>
<g transform="translate(0.0,0)"><line x1="125.3" y1="75.8" x2="125.3" y2="71.8" stroke="#ffc400" stroke-width="3"/><line x1="132.9" y1="77.8" x2="134.9" y2="74.4" stroke="#ffc400" stroke-width="3"/><line x1="138.6" y1="83.4" x2="142.0" y2="81.4" stroke="#ffc400" stroke-width="3"/><line x1="117.6" y1="77.8" x2="115.7" y2="74.4" stroke="#ffc400" stroke-width="3"/><line x1="112.0" y1="83.4" x2="108.6" y2="81.4" stroke="#ffc400" stroke-width="3"/><line x1="110.0" y1="91.1" x2="106.0" y2="91.1" stroke="#ffc400" stroke-width="3"/><line x1="112.0" y1="98.7" x2="108.6" y2="100.7" stroke="#ffc400" stroke-width="3"/><circle cx="125.3" cy="91.1" r="12.2" fill="#ffc400"/><g fill="#c8c8c8"><rect x="110.0" y="98.9" width="44.7" height="16.5" rx="8.2" ry="8.2"/><circle cx="137.9" cy="99.3" r="10.7"/><circle cx="123.6" cy="102.9" r="7.9"/></g><line x1="125.8" y1="116.2" x2="122.8" y2="122.6" stroke="#0a6cff" stroke-width="2.6"/><line x1="133.6" y1="116.2" x2="130.6" y2="122.6" stroke="#0a6cff" stroke-width="2.6"/><line x1="141.5" y1="116.2" x2="138.5" y2="122.6" stroke="#0a6cff" stroke-width="2.6"/></g>
<g transform="translate(136.7,0)"><line x1="125.3" y1="75.8" x2="125.3" y2="71.8" stroke="#ffc400" stroke-width="3"/><line x1="132.9" y1="77.8" x2="134.9" y2="74.4" stroke="#ffc400" stroke-width="3"/><line x1="138.6" y1="83.4" x2="142.0" y2="81.4" stroke="#ffc400" stroke-width="3"/><line x1="117.6" y1="77.8" x2="115.7" y2="74.4" stroke="#ffc400" stroke-width="3"/><line x1="112.0" y1="83.4" x2="108.6" y2="81.4" stroke="#ffc400" stroke-width="3"/><line x1="110.0" y1="91.1" x2="106.0" y2="91.1" stroke="#ffc400" stroke-width="3"/><line x1="112.0" y1="98.7" x2="108.6" y2="100.7" stroke="#ffc400" stroke-width="3"/><circle cx="125.3" cy="91.1" r="12.2" fill="#ffc400"/><g fill="#c8c8c8"><rect x="110.0" y="98.9" width="44.7" height="16.5" rx="8.2" ry="8.2"/><circle cx="137.9" cy="99.3" r="10.7"/><circle cx="123.6" cy="102.9" r="7.9"/></g><line x1="125.8" y1="116.2" x2="122.8" y2="122.6" stroke="#0a6cff" stroke-width="2.6"/><line x1="133.6" y1="116.2" x2="130.6" y2="122.6" stroke="#0a6cff" stroke-width="2.6"/><line x1="141.5" y1="116.2" x2="138.5" y2="122.6" stroke="#0a6cff" stroke-width="2.6"/></g>
<g transform="translate(0.0,0)"><g fill="#c8c8c8"><rect x="377.6" y="86.0" width="51.4" height="19.0" rx="9.5" ry="9.5"/><circle cx="407.9" cy="85.0" r="11.4"/><circle cx="392.1" cy="88.6" r="7.4"/></g><g fill="#e4e4e4"><rect x="380.7" y="105.7" width="45.0" height="15.4" rx="7.7" ry="7.7"/><circle cx="403.6" cy="105.0" r="10.0"/><circle cx="392.0" cy="108.5" r="6.0"/></g></g>
<g transform="translate(136.7,0)"><g fill="#c8c8c8"><rect x="377.6" y="86.0" width="51.4" height="19.0" rx="9.5" ry="9.5"/><circle cx="407.9" cy="85.0" r="11.4"/><circle cx="392.1" cy="88.6" r="7.4"/></g><g fill="#e4e4e4"><rect x="380.7" y="105.7" width="45.0" height="15.4" rx="7.7" ry="7.7"/><circle cx="403.6" cy="105.0" r="10.0"/><circle cx="392.0" cy="108.5" r="6.0"/></g></g>
<g transform="translate(0.0,0)"><line x1="671.7" y1="79.6" x2="671.7" y2="75.0" stroke="#ffc400" stroke-width="3.1"/><line x1="680.1" y1="81.9" x2="682.4" y2="77.9" stroke="#ffc400" stroke-width="3.1"/><line x1="686.2" y1="88.0" x2="690.2" y2="85.7" stroke="#ffc400" stroke-width="3.1"/><line x1="663.3" y1="81.9" x2="661.0" y2="77.9" stroke="#ffc400" stroke-width="3.1"/><line x1="657.2" y1="88.0" x2="653.2" y2="85.7" stroke="#ffc400" stroke-width="3.1"/><line x1="654.9" y1="96.4" x2="650.3" y2="96.4" stroke="#ffc400" stroke-width="3.1"/><line x1="657.2" y1="104.8" x2="653.2" y2="107.1" stroke="#ffc400" stroke-width="3.1"/><circle cx="671.7" cy="96.4" r="14.3" fill="#ffc400"/><g fill="#c8c8c8"><rect x="658.9" y="102.9" width="43.2" height="16.8" rx="8.4" ry="8.4"/><circle cx="685.0" cy="104.3" r="10.7"/><circle cx="672.1" cy="107.9" r="7.9"/></g></g>
<g transform="translate(136.7,0)"><line x1="671.7" y1="79.6" x2="671.7" y2="75.0" stroke="#ffc400" stroke-width="3.1"/><line x1="680.1" y1="81.9" x2="682.4" y2="77.9" stroke="#ffc400" stroke-width="3.1"/><line x1="686.2" y1="88.0" x2="690.2" y2="85.7" stroke="#ffc400" stroke-width="3.1"/><line x1="663.3" y1="81.9" x2="661.0" y2="77.9" stroke="#ffc400" stroke-width="3.1"/><line x1="657.2" y1="88.0" x2="653.2" y2="85.7" stroke="#ffc400" stroke-width="3.1"/><line x1="654.9" y1="96.4" x2="650.3" y2="96.4" stroke="#ffc400" stroke-width="3.1"/><line x1="657.2" y1="104.8" x2="653.2" y2="107.1" stroke="#ffc400" stroke-width="3.1"/><circle cx="671.7" cy="96.4" r="14.3" fill="#ffc400"/><g fill="#c8c8c8"><rect x="658.9" y="102.9" width="43.2" height="16.8" rx="8.4" ry="8.4"/><circle cx="685.0" cy="104.3" r="10.7"/><circle cx="672.1" cy="107.9" r="7.9"/></g></g>
<g transform="translate(0.0,0)"><line x1="949.3" y1="79.2" x2="949.3" y2="70.9" stroke="#ffc400" stroke-width="2.9"/><line x1="959.4" y1="79.5" x2="962.0" y2="75.0" stroke="#ffc400" stroke-width="2.9"/><line x1="964.8" y1="88.1" x2="972.0" y2="84.0" stroke="#ffc400" stroke-width="2.9"/><line x1="969.6" y1="97.1" x2="974.8" y2="97.1" stroke="#ffc400" stroke-width="2.9"/><line x1="964.8" y1="106.0" x2="972.0" y2="110.2" stroke="#ffc400" stroke-width="2.9"/><line x1="959.4" y1="114.7" x2="962.0" y2="119.2" stroke="#ffc400" stroke-width="2.9"/><line x1="949.3" y1="115.0" x2="949.3" y2="123.3" stroke="#ffc400" stroke-width="2.9"/><line x1="939.1" y1="114.7" x2="936.5" y2="119.2" stroke="#ffc400" stroke-width="2.9"/><line x1="933.8" y1="106.0" x2="926.6" y2="110.2" stroke="#ffc400" stroke-width="2.9"/><line x1="929.0" y1="97.1" x2="923.8" y2="97.1" stroke="#ffc400" stroke-width="2.9"/><line x1="933.8" y1="88.1" x2="926.6" y2="84.0" stroke="#ffc400" stroke-width="2.9"/><line x1="939.1" y1="79.5" x2="936.5" y2="75.0" stroke="#ffc400" stroke-width="2.9"/><circle cx="949.3" cy="97.1" r="15" fill="#ffc400"/></g>
</svg></body></html>
